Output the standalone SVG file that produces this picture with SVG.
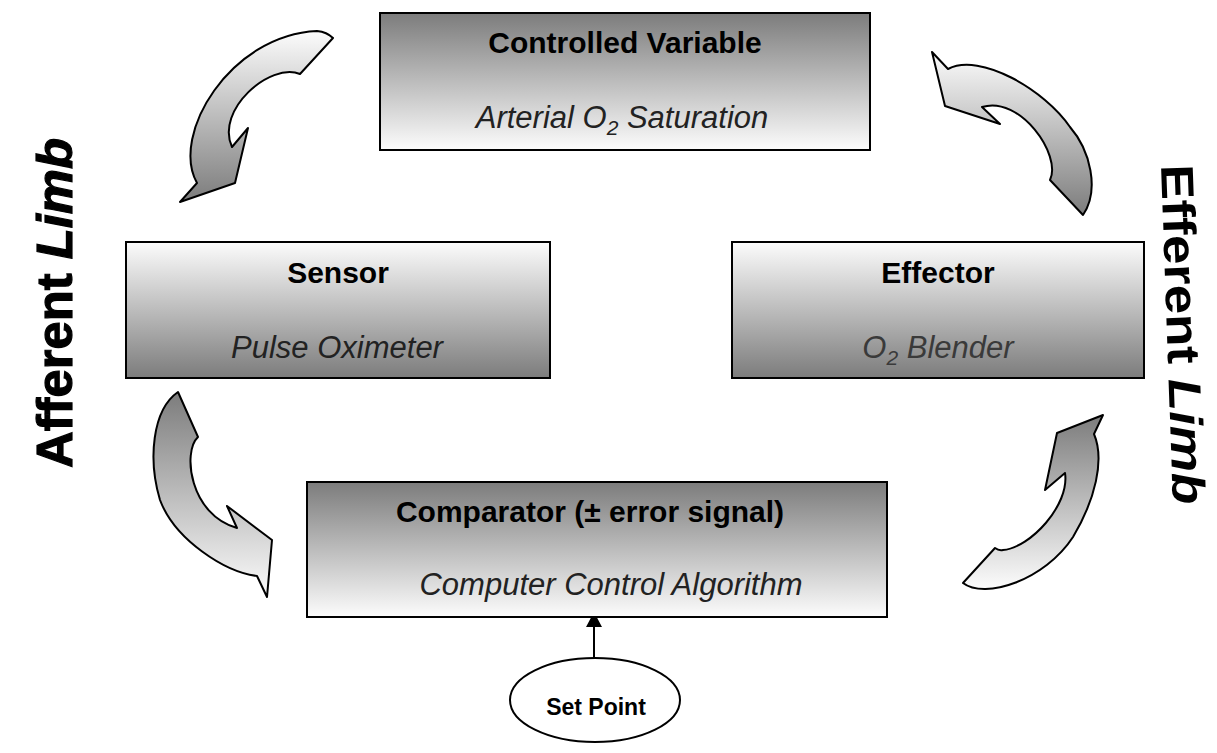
<svg xmlns="http://www.w3.org/2000/svg" width="1217" height="753" viewBox="0 0 1217 753">
<style>
text{font-family:"Liberation Sans",Arial,sans-serif}
.box{stroke:#000;stroke-width:2}
.t{font-weight:bold;font-size:30px;fill:#000;text-anchor:middle}
.s{font-style:italic;font-size:31px;fill:#222;text-anchor:middle}
.sub{font-size:21px}
.arr{stroke:#000;stroke-width:2;stroke-linejoin:round}
.side{font-weight:bold;font-size:50px;fill:#000;text-anchor:middle}
</style>
<defs>
<linearGradient id="gDown" x1="0" y1="0" x2="0" y2="1"><stop offset="0" stop-color="#7c7c7c"/><stop offset="1" stop-color="#fcfcfc"/></linearGradient>
<linearGradient id="gUp" x1="0" y1="0" x2="0" y2="1"><stop offset="0" stop-color="#fcfcfc"/><stop offset="1" stop-color="#7c7c7c"/></linearGradient>
<marker id="head" markerUnits="userSpaceOnUse" markerWidth="16" markerHeight="16" refX="0" refY="8" orient="auto"><path d="M0,0 L15,8 L0,16 Z" fill="#000"/></marker>
</defs>

<g id="connectors">
<path id="arrow-cv-sensor" class="arr" fill="url(#gUp)" d="M333,38 L300,74 C270,62 215,110 232,147 L248,128 L235,183 L180,202 L197,183 C170,135 230,35 317,31 Q327,32 333,38 Z"/>
<path id="arrow-effector-cv" class="arr" fill="url(#gUp)" d="M932,52 L948,69 C980,52 1045,90 1070,127 C1090,150 1100,190 1083,215 L1050,180 C1062,155 1020,95 982,107 L1000,124 L945,106 Z"/>
<path id="arrow-sensor-comp" class="arr" fill="url(#gDown)" d="M178,392 L198,437 C182,452 190,515 237,528 L227,506 L272,540 L267,597 L257,576 C225,572 175,540 160,500 C148,460 152,410 178,392 Z"/>
<path id="arrow-comp-effector" class="arr" fill="url(#gDown)" d="M963,583 L995,548 Q999,551 1003,550 C1030,548 1070,505 1065,473 L1045,490 L1057,433 L1103,415 L1094,434 C1105,460 1095,500 1073,537 C1045,580 985,600 963,583 Z"/>
<line id="setpoint-arrow" x1="594" y1="658" x2="594" y2="627" stroke="#000" stroke-width="2" marker-end="url(#head)"/>
</g>

<g id="controlled-variable">
<rect class="box" x="380" y="13" width="490" height="137" fill="url(#gDown)"/>
<text class="t" x="625" y="53">Controlled Variable</text>
<text class="s" x="622" y="128">Arterial O<tspan class="sub" dy="7">2</tspan><tspan dy="-7"> Saturation</tspan></text>
</g>

<g id="sensor">
<rect class="box" x="126" y="242" width="424" height="136" fill="url(#gUp)"/>
<text class="t" x="338" y="283">Sensor</text>
<text class="s" x="337" y="358">Pulse Oximeter</text>
</g>

<g id="effector">
<rect class="box" x="732" y="242" width="412" height="136" fill="url(#gUp)"/>
<text class="t" x="938" y="283">Effector</text>
<text class="s" x="938" y="358" style="fill:#3a3a3a">O<tspan class="sub" dy="7">2</tspan><tspan dy="-7"> Blender</tspan></text>
</g>

<g id="comparator">
<rect class="box" x="307" y="482" width="580" height="135" fill="url(#gDown)"/>
<text class="t" x="590" y="522">Comparator (± error signal)</text>
<text class="s" x="611" y="595">Computer Control Algorithm</text>
</g>

<g id="set-point">
<ellipse cx="595" cy="700" rx="85" ry="42" fill="#fff" stroke="#000" stroke-width="2"/>
<text x="596" y="715" style="font-weight:bold;font-size:23px;text-anchor:middle">Set Point</text>
</g>

<g id="afferent-label">
<text class="side" x="72" y="303" transform="rotate(-90 72 303)" textLength="330" lengthAdjust="spacingAndGlyphs" stroke="#000" stroke-width="1.2">Afferent <tspan font-style="italic">Limb</tspan></text>
</g>
<g id="efferent-label">
<text class="side" x="1167" y="335" transform="rotate(88 1167 335)" textLength="340" lengthAdjust="spacingAndGlyphs" style="font-size:46px">Efferent <tspan font-style="italic">Limb</tspan></text>
</g>
</svg>
